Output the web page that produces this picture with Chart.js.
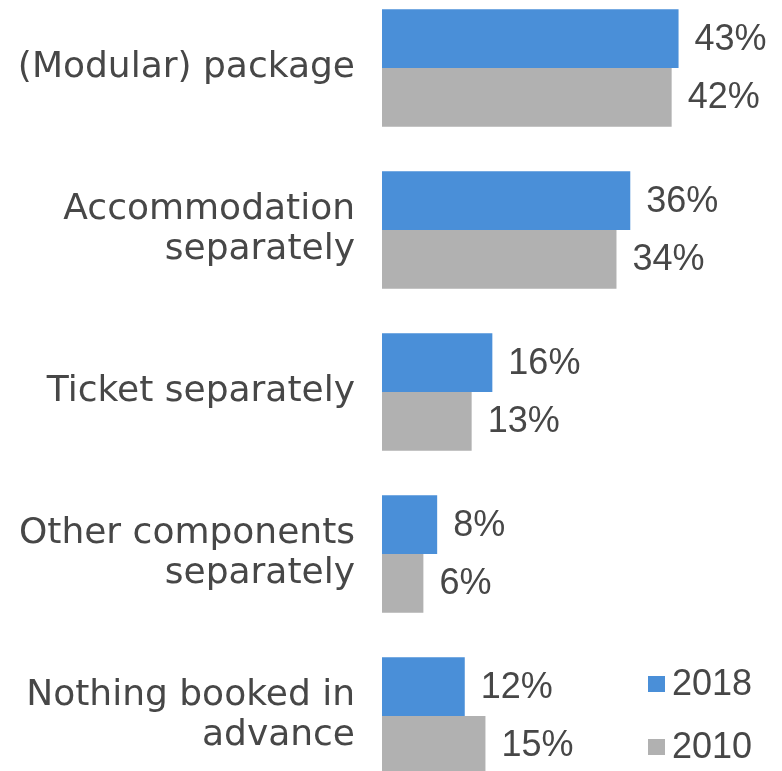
<!DOCTYPE html>
<html>
<head>
<meta charset="utf-8">
<script src="https://cdn.jsdelivr.net/npm/chart.js@4/dist/chart.umd.min.js"></script>
<style>
    html, body {
        margin: 0;
        padding: 0;
        background: #ffffff;
        overflow: hidden;
        width: 782px;
        height: 771px;
    }
    #wrap {
        position: absolute;
        left: 0;
        top: -13px;
        width: 782px;
        height: 810px;
    }
</style>
</head>
<body>
<div id="wrap"><canvas id="bookingChart" width="782" height="810"></canvas></div>
<script>
const categories = [
    '(Modular) package',
    ['Accommodation', 'separately'],
    'Ticket separately',
    ['Other components', 'separately'],
    ['Nothing booked in', 'advance']
];
const seriesNames = ['2018', '2010'];
const values2018 = [43, 36, 16, 8, 12];
const values2010 = [42, 34, 13, 6, 15];

const textColor = '#474747';
const blue = '#4a8fd8';
const grey = '#b1b1b1';

// Percent labels just past the end of each bar
const valueLabels = {
    id: 'valueLabels',
    afterDatasetsDraw(chart) {
        const ctx = chart.ctx;
        ctx.save();
        ctx.font = '36px "Liberation Sans", Arial, sans-serif';
        ctx.fillStyle = textColor;
        ctx.textAlign = 'left';
        ctx.textBaseline = 'middle';
        chart.data.datasets.forEach((ds, i) => {
            chart.getDatasetMeta(i).data.forEach((bar, j) => {
                ctx.fillText(ds.data[j] + '%', bar.x + 16, bar.y + 1);
            });
        });
        ctx.restore();
    }
};

// Small legend in the lower right corner
const cornerLegend = {
    id: 'cornerLegend',
    afterDraw(chart) {
        const ctx = chart.ctx;
        ctx.save();
        ctx.font = '36px "Liberation Sans", Arial, sans-serif';
        ctx.textAlign = 'left';
        ctx.textBaseline = 'middle';
        chart.data.datasets.forEach((ds, i) => {
            const y = 697 + i * 63;
            ctx.fillStyle = ds.backgroundColor;
            ctx.fillRect(648, y - 8, 17, 16);
            ctx.fillStyle = textColor;
            ctx.fillText(ds.label, 672, y + 1);
        });
        ctx.restore();
    }
};

new Chart(document.getElementById('bookingChart'), {
    type: 'bar',
    data: {
        labels: categories,
        datasets: [{
            label: seriesNames[0],
            data: values2018,
            backgroundColor: blue
        }, {
            label: seriesNames[1],
            data: values2010,
            backgroundColor: grey
        }]
    },
    options: {
        indexAxis: 'y',
        responsive: false,
        animation: false,
        layout: { padding: 0 },
        datasets: {
            bar: {
                barPercentage: 1,
                categoryPercentage: 0.725
            }
        },
        plugins: {
            legend: { display: false },
            tooltip: { enabled: false }
        },
        scales: {
            x: {
                display: false,
                min: 0,
                max: 58
            },
            y: {
                afterFit(axis) {
                    // fixed label column, and no extra room above/below for the labels
                    axis.width = 382;
                    axis.paddingTop = 0;
                    axis.paddingBottom = 0;
                },
                grid: { display: false, drawTicks: false },
                border: { display: false },
                ticks: {
                    padding: 27,
                    color: textColor,
                    font: {
                        family: '"DejaVu Sans", sans-serif',
                        size: 36,
                        lineHeight: 1.11
                    }
                }
            }
        }
    },
    plugins: [valueLabels, cornerLegend]
});
</script>
</body>
</html>
